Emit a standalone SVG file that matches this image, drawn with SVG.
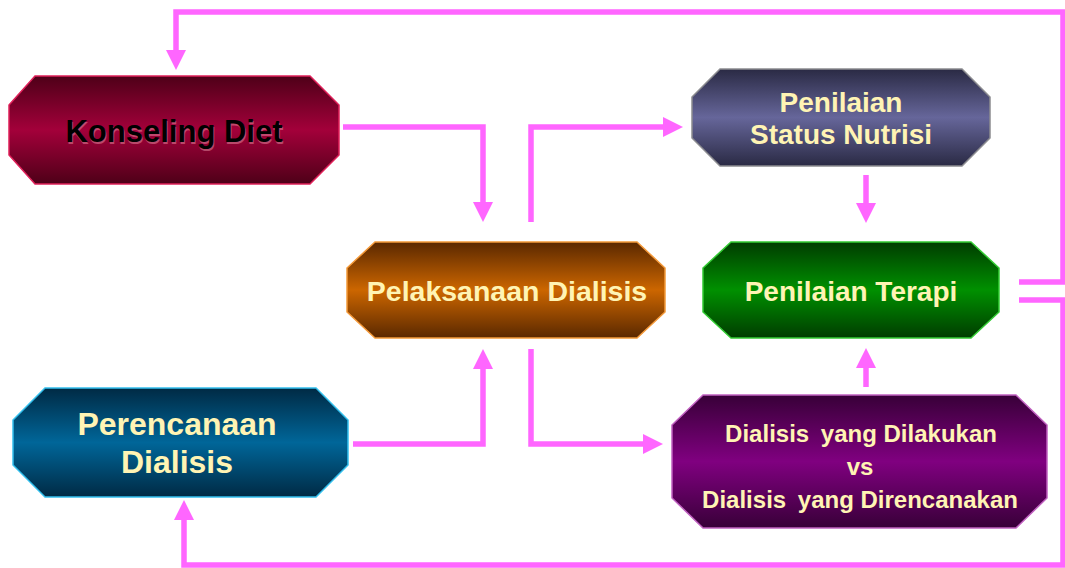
<svg xmlns="http://www.w3.org/2000/svg" width="1065" height="568" viewBox="0 0 1065 568">
<defs>
<linearGradient id="gRed" x1="0" y1="0" x2="0" y2="1"><stop offset="0" stop-color="#4e0018"/><stop offset="0.5" stop-color="#a3003a"/><stop offset="1" stop-color="#4e0018"/></linearGradient>
<linearGradient id="gOrange" x1="0" y1="0" x2="0" y2="1"><stop offset="0" stop-color="#5a2800"/><stop offset="0.5" stop-color="#cc6600"/><stop offset="1" stop-color="#5a2800"/></linearGradient>
<linearGradient id="gSlate" x1="0" y1="0" x2="0" y2="1"><stop offset="0" stop-color="#2a2a44"/><stop offset="0.5" stop-color="#66669a"/><stop offset="1" stop-color="#2a2a44"/></linearGradient>
<linearGradient id="gGreen" x1="0" y1="0" x2="0" y2="1"><stop offset="0" stop-color="#003c00"/><stop offset="0.5" stop-color="#009000"/><stop offset="1" stop-color="#003c00"/></linearGradient>
<linearGradient id="gBlue" x1="0" y1="0" x2="0" y2="1"><stop offset="0" stop-color="#002a44"/><stop offset="0.5" stop-color="#006699"/><stop offset="1" stop-color="#002a44"/></linearGradient>
<linearGradient id="gPurple" x1="0" y1="0" x2="0" y2="1"><stop offset="0" stop-color="#380038"/><stop offset="0.5" stop-color="#800080"/><stop offset="1" stop-color="#380038"/></linearGradient>
<marker id="arr" viewBox="0 0 20 20" refX="5" refY="10" markerWidth="20" markerHeight="20" markerUnits="userSpaceOnUse" orient="auto"><path d="M0,0 L20,10 L0,20 Z" fill="#ff66ff"/></marker>
</defs>
<style>
.lbl{font-family:"Liberation Sans",Arial,sans-serif;font-weight:bold;fill:#fff4b4;text-anchor:middle}
.conn{fill:none;stroke:#ff66ff;stroke-width:5.5}
.node{stroke-width:1.5}
</style>
<rect width="1065" height="568" fill="#ffffff"/>
<g id="connectors">
<path class="conn" d="M1019,282 H1063 V12 H176 V55" marker-end="url(#arr)"/>
<path class="conn" d="M1019,300 H1063 V565 H184 V515" marker-end="url(#arr)"/>
<path class="conn" d="M343,127 H483 V207" marker-end="url(#arr)"/>
<path class="conn" d="M531,222 V127 H668" marker-end="url(#arr)"/>
<path class="conn" d="M353,444 H483 V364" marker-end="url(#arr)"/>
<path class="conn" d="M531,349 V444 H648" marker-end="url(#arr)"/>
<path class="conn" d="M866,175 V208" marker-end="url(#arr)"/>
<path class="conn" d="M866,387 V363" marker-end="url(#arr)"/>
</g>
<g id="konseling">
<polygon class="node" points="35,76 310,76 339,105 339,155 310,184 35,184 9,155 9,105" fill="url(#gRed)" stroke="#e0205a"/>
<text x="174" y="142" font-family="Liberation Sans,Arial,sans-serif" font-weight="bold" font-size="31" text-anchor="middle" fill="#f0a0b0" opacity="0.45" transform="translate(1,2)">Konseling Diet</text>
<text x="174" y="142" font-family="Liberation Sans,Arial,sans-serif" font-weight="bold" font-size="31" text-anchor="middle" fill="#000000">Konseling Diet</text>
</g>
<g id="pelaksanaan">
<polygon class="node" points="375,242 637,242 665,268 665,312 637,338 375,338 347,312 347,268" fill="url(#gOrange)" stroke="#f49a3a"/>
<text class="lbl" x="507" y="301" font-size="28.5">Pelaksanaan Dialisis</text>
</g>
<g id="nutrisi">
<polygon class="node" points="720,69 962,69 990,97 990,138 962,166 720,166 692,138 692,97" fill="url(#gSlate)" stroke="#8c8c90"/>
<text class="lbl" x="841" y="112" font-size="28">Penilaian</text>
<text class="lbl" x="841" y="144" font-size="28">Status Nutrisi</text>
</g>
<g id="terapi">
<polygon class="node" points="731,242 971,242 999,268 999,312 971,338 731,338 703,312 703,268" fill="url(#gGreen)" stroke="#33cc33"/>
<text class="lbl" x="851" y="301" font-size="28">Penilaian Terapi</text>
</g>
<g id="perencanaan">
<polygon class="node" points="45,388 316,388 348,420 348,465 316,497 45,497 13,465 13,420" fill="url(#gBlue)" stroke="#33c0ee"/>
<text class="lbl" x="177" y="435" font-size="32">Perencanaan</text>
<text class="lbl" x="177" y="473" font-size="32">Dialisis</text>
</g>
<g id="dialisis-vs">
<polygon class="node" points="703,395 1016,395 1047,425 1047,498 1016,528 703,528 672,498 672,425" fill="url(#gPurple)" stroke="#c060c0"/>
<text class="lbl" x="861" y="442" font-size="24">Dialisis <tspan dx="5">yang Dilakukan</tspan></text>
<text class="lbl" x="860" y="475" font-size="24">vs</text>
<text class="lbl" x="860" y="508" font-size="24">Dialisis <tspan dx="5">yang Direncanakan</tspan></text>
</g>
</svg>
